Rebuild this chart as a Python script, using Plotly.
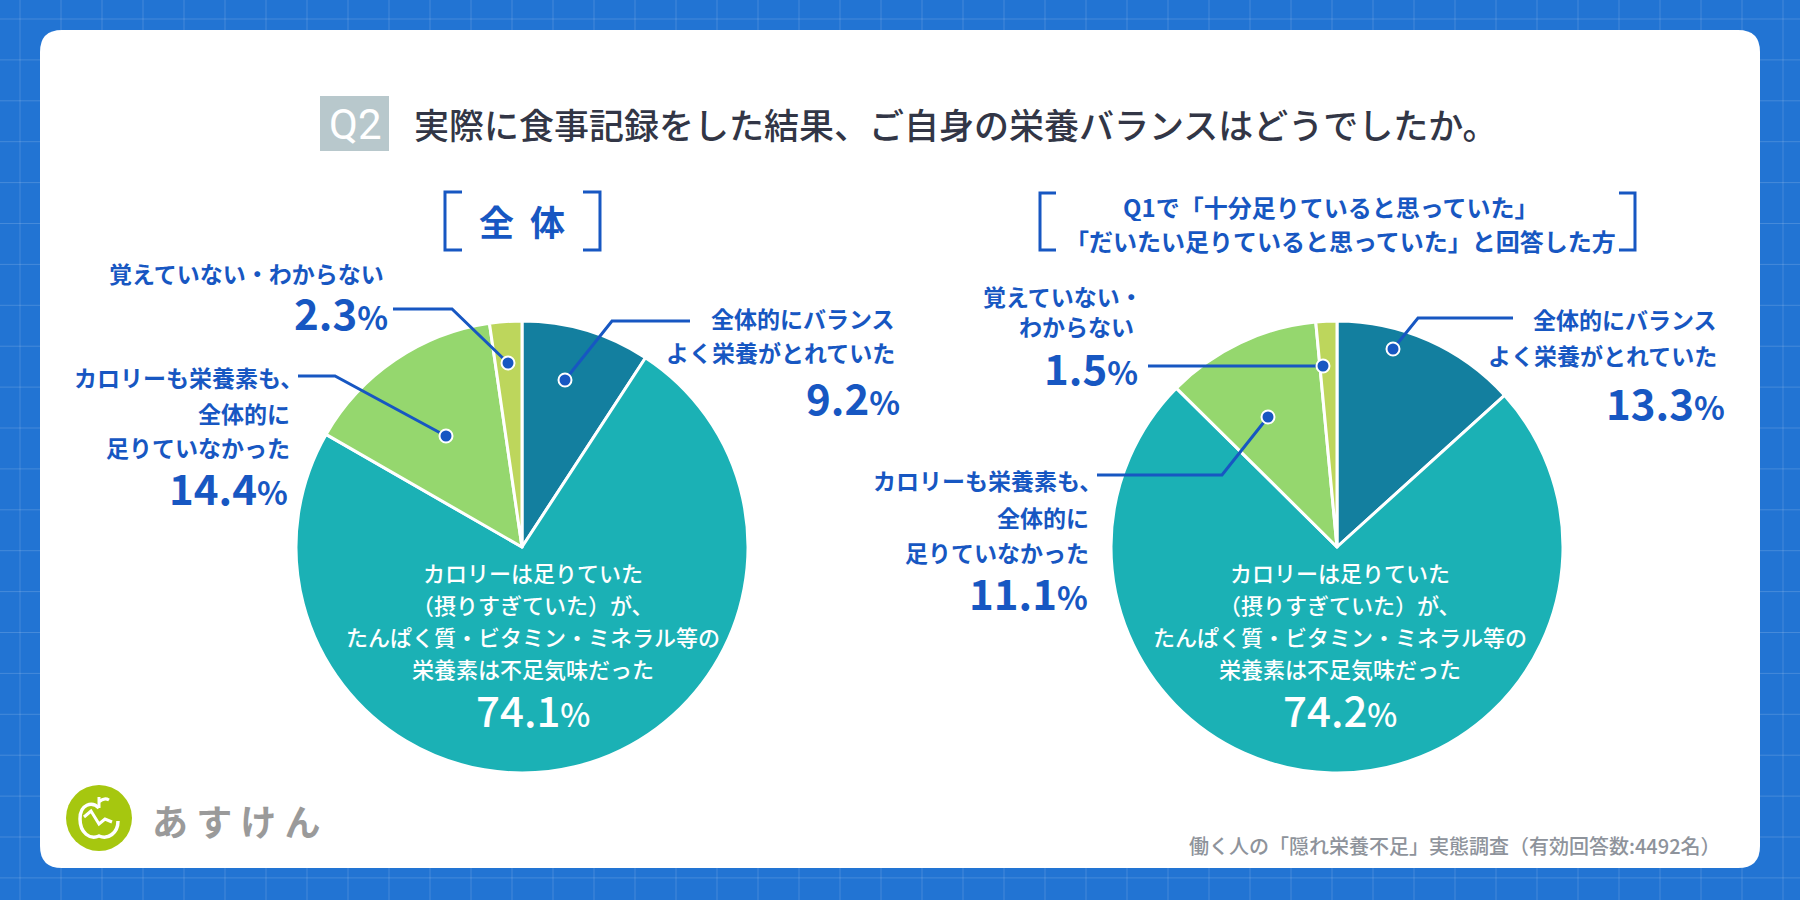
import plotly.graph_objects as go

# --- データ ---
categories = [
    "全体的にバランスよく栄養がとれていた",
    "カロリーは足りていた（摂りすぎていた）が、たんぱく質・ビタミン・ミネラル等の栄養素は不足気味だった",
    "カロリーも栄養素も、全体的に足りていなかった",
    "覚えていない・わからない",
]
values_all = [9.2, 74.1, 14.4, 2.3]
values_q1 = [13.3, 74.2, 11.1, 1.5]
slice_colors = ["#137f9f", "#1bb1b5", "#95d76e", "#bdd65c"]

title_text = "実際に食事記録をした結果、ご自身の栄養バランスはどうでしたか。"
header_left = "全&nbsp;&nbsp;体"
header_right = ["Q1で「十分足りていると思っていた」", "「だいたい足りていると思っていた」と回答した方"]
source_text = "働く人の「隠れ栄養不足」実態調査（有効回答数:4492名）"
brand_text = "あ す け ん"

W, H = 1800, 900
BLUE = "#1757c2"
FONT = "Noto Sans CJK JP"


def fx(x):
    return x / W


def fy(y):
    return 1 - y / H


def pth(points, close=False):
    s = "M " + " L ".join(f"{fx(x):.5f},{fy(y):.5f}" for x, y in points)
    return s + (" Z" if close else "")


shapes = []
annotations = []


def text(x, y, s, size, color=BLUE, anchor="right", weight=700, family=FONT, h=None):
    a = dict(
        x=fx(x), y=fy(y), xref="paper", yref="paper", text=s, showarrow=False,
        xanchor=anchor, yanchor="middle", align=anchor if anchor != "center" else "center",
        font=dict(family=family, size=size, color=color, weight=weight),
    )
    if h:
        a["height"] = h
    annotations.append(a)


def label(x, y, s):
    text(x, y, s, 23, h=28)


def pct(v, x, y, color=BLUE, anchor="right", weight=700):
    s = f"{v}<span style='font-size:32px'>%</span>"
    text(x, y, s, 42, color=color, anchor=anchor, weight=weight, h=40)


def leader(points):
    shapes.append(dict(type="path", xref="paper", yref="paper", path=pth(points),
                       line=dict(color=BLUE, width=3), layer="above"))
    x, y = points[0]
    r = 6.5
    shapes.append(dict(type="circle", xref="paper", yref="paper",
                       x0=fx(x - r), x1=fx(x + r), y0=fy(y + r), y1=fy(y - r),
                       fillcolor=BLUE, line=dict(color="white", width=2), layer="above"))


# --- 背景 (グリッド + カード) ---
gx = 20
while gx < W:
    shapes.append(dict(type="line", xref="paper", yref="paper", x0=fx(gx), x1=fx(gx), y0=0, y1=1,
                       line=dict(color="rgba(255,255,255,0.16)", width=1), layer="below"))
    gx += 41
gy = 19
while gy < H:
    shapes.append(dict(type="line", xref="paper", yref="paper", x0=0, x1=1, y0=fy(gy), y1=fy(gy),
                       line=dict(color="rgba(255,255,255,0.16)", width=1), layer="below"))
    gy += 40.9

cx0, cy0, cx1, cy1, cr = 40, 30, 1760, 868, 22
card = (f"M {fx(cx0 + cr)},{fy(cy0)} L {fx(cx1 - cr)},{fy(cy0)} "
        f"Q {fx(cx1)},{fy(cy0)} {fx(cx1)},{fy(cy0 + cr)} L {fx(cx1)},{fy(cy1 - cr)} "
        f"Q {fx(cx1)},{fy(cy1)} {fx(cx1 - cr)},{fy(cy1)} L {fx(cx0 + cr)},{fy(cy1)} "
        f"Q {fx(cx0)},{fy(cy1)} {fx(cx0)},{fy(cy1 - cr)} L {fx(cx0)},{fy(cy0 + cr)} "
        f"Q {fx(cx0)},{fy(cy0)} {fx(cx0 + cr)},{fy(cy0)} Z")
shapes.append(dict(type="path", xref="paper", yref="paper", path=card,
                   fillcolor="white", line=dict(width=0), layer="below"))

# --- タイトル ---
shapes.append(dict(type="rect", xref="paper", yref="paper", x0=fx(320), x1=fx(389), y0=fy(151), y1=fy(96),
                   fillcolor="#b8c8cc", line=dict(width=0), layer="below"))
text(355, 125, "Q2", 42, color="white", anchor="center", weight=400, family="Roboto")
text(412, 123, title_text, 35, color="#323646", anchor="left", weight=500)

# --- 見出し ---
for pts in ([(462, 192), (445, 192), (445, 250), (462, 250)],
            [(583, 192), (600, 192), (600, 250), (583, 250)],
            [(1056, 193), (1040, 193), (1040, 250), (1056, 250)],
            [(1619, 193), (1635, 193), (1635, 250), (1619, 250)]):
    shapes.append(dict(type="path", xref="paper", yref="paper", path=pth(pts),
                       line=dict(color=BLUE, width=3), layer="above"))
text(522, 220, header_left, 35, anchor="center")
text(1330, 206, header_right[0], 24, anchor="center", h=30)
text(1340, 240, header_right[1], 24, anchor="center", h=30)

# --- 円グラフ ---
R = 226
pies = [(522, 547, values_all), (1337, 547, values_q1)]
traces = []
for cx, cy, vals in pies:
    traces.append(go.Pie(
        labels=categories, values=vals, sort=False, direction="clockwise", rotation=0,
        marker=dict(colors=slice_colors, line=dict(color="white", width=3)),
        textinfo="none", hoverinfo="label+percent", showlegend=False,
        domain=dict(x=[fx(cx - R), fx(cx + R)], y=[fy(cy + R), fy(cy - R)]),
    ))
fig = go.Figure(traces)

# 左: 全体
label(897, 318, "全体的にバランス")
label(897, 352, "よく栄養がとれていた")
pct(values_all[0], 902, 396)
leader([(565, 380), (612, 321), (690, 321)])

label(386, 273, "覚えていない・わからない")
pct(values_all[3], 390, 311)
leader([(508, 363), (452, 309), (393, 309)])

label(305, 377, "カロリーも栄養素も、")
label(292, 413, "全体的に")
label(292, 447, "足りていなかった")
pct(values_all[2], 290, 486)
leader([(446, 436), (335, 376), (298, 376)])

center_lines = ["カロリーは足りていた", "（摂りすぎていた）が、", "たんぱく質・ビタミン・ミネラル等の", "栄養素は不足気味だった"]
for i, ln in enumerate(center_lines):
    text(533, 572 + i * 32, ln, 22, color="white", anchor="center", weight=500, h=28)
pct(values_all[1], 533, 708, color="white", anchor="center", weight=500)

# 右: Q1で足りていると思っていた方
label(1719, 319, "全体的にバランス")
label(1719, 355, "よく栄養がとれていた")
pct(values_q1[0], 1727, 401)
leader([(1393, 349), (1418, 318), (1513, 318)])

label(1145, 296, "覚えていない・")
label(1136, 326, "わからない")
pct(values_q1[3], 1140, 366)
leader([(1323, 366), (1148, 366)])

label(1104, 480, "カロリーも栄養素も、")
label(1091, 517, "全体的に")
label(1091, 552, "足りていなかった")
pct(values_q1[2], 1090, 591)
leader([(1268, 417), (1222, 475), (1097, 475)])

for i, ln in enumerate(center_lines):
    text(1340, 572 + i * 32, ln, 22, color="white", anchor="center", weight=500, h=28)
pct(values_q1[1], 1340, 708, color="white", anchor="center", weight=500)

# --- フッター ---
text(1723, 845, source_text, 20, color="#8e939b", weight=500)
shapes.append(dict(type="circle", xref="paper", yref="paper", x0=fx(66), x1=fx(132), y0=fy(851), y1=fy(785),
                   fillcolor="#a6c70f", line=dict(width=0), layer="above"))
apple = (f"M {fx(99)},{fy(808)} C {fx(92)},{fy(801)} {fx(80)},{fy(804)} {fx(80)},{fy(819)} "
         f"C {fx(80)},{fy(833)} {fx(90)},{fy(840)} {fx(99)},{fy(836)} "
         f"C {fx(108)},{fy(840)} {fx(118)},{fy(833)} {fx(118)},{fy(821)}")
shapes.append(dict(type="path", xref="paper", yref="paper", path=apple,
                   line=dict(color="white", width=3.5), layer="above"))
shapes.append(dict(type="path", xref="paper", yref="paper",
                   path=pth([(99, 808), (99, 797)]) + f" M {fx(99)},{fy(802)} Q {fx(104)},{fy(797)} {fx(109)},{fy(800)}",
                   line=dict(color="white", width=3), layer="above"))
shapes.append(dict(type="path", xref="paper", yref="paper",
                   path=pth([(84, 817), (91, 811), (99, 824), (105, 819), (112, 822)]),
                   line=dict(color="white", width=3), layer="above"))
text(150, 820, brand_text, 36, color="#9a9a9a", anchor="left", weight=700)

fig.update_layout(
    width=W, height=H, margin=dict(l=0, r=0, t=0, b=0),
    paper_bgcolor="#2274d3", plot_bgcolor="#2274d3",
    shapes=shapes, annotations=annotations,
    font=dict(family=FONT),
)

fig.write_html("out.html", config={"displayModeBar": False},
               post_script="document.body.style.margin='0';")
